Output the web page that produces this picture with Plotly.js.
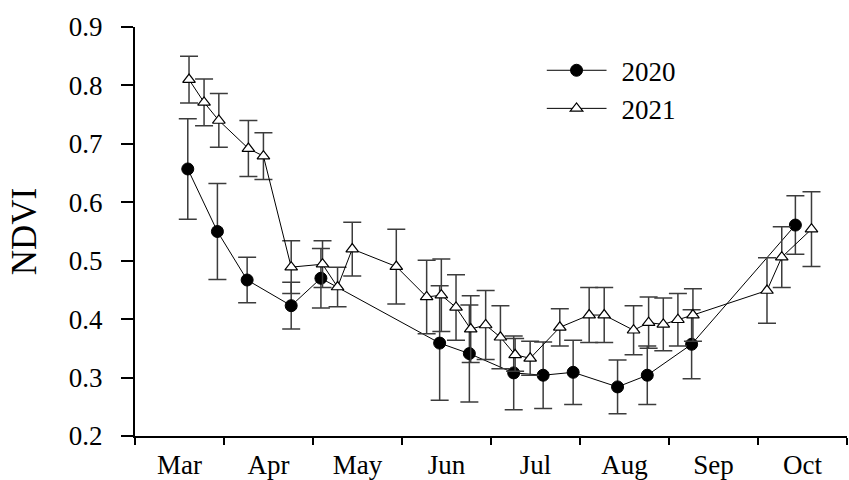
<!DOCTYPE html>
<html>
<head>
<meta charset="utf-8">
<script src="https://cdn.plot.ly/plotly-3.0.1.min.js"></script>
<style>
  html, body { margin: 0; padding: 0; background: #fff; }
  #chart { width: 849px; height: 480px; }
</style>
</head>
<body>
<div id="chart"></div>
<script>
// Month labels (axis runs in months since 1 March; ticks at month boundaries)
var monthLabels = ['Mar', 'Apr', 'May', 'Jun', 'Jul', 'Aug', 'Sep', 'Oct'];
var monthBounds = [0, 1, 2, 3, 4, 5, 6, 7, 8];
var monthCenters = [0.5, 1.5, 2.5, 3.5, 4.5, 5.5, 6.5, 7.5];

// 2020 series
var x2020 = [0.593, 0.926, 1.260, 1.755, 2.089, 3.423, 3.757, 4.255, 4.586, 4.923, 5.422, 5.756, 6.254, 7.420];
var y2020 = [0.657, 0.550, 0.467, 0.423, 0.470, 0.359, 0.341, 0.308, 0.304, 0.309, 0.284, 0.304, 0.357, 0.561];
var e2020 = [0.086, 0.082, 0.039, 0.040, 0.051, 0.098, 0.083, 0.063, 0.057, 0.055, 0.046, 0.050, 0.059, 0.050];

// 2021 series
var x2021 = [0.607, 0.776, 0.942, 1.274, 1.443, 1.755, 2.107, 2.276, 2.441, 2.936, 3.277, 3.442, 3.607, 3.772, 3.940,
             4.106, 4.271, 4.440, 4.773, 5.103, 5.272, 5.602, 5.771, 5.936, 6.100, 6.269, 7.101, 7.267, 7.601];
var y2021 = [0.810, 0.771, 0.740, 0.692, 0.679, 0.489, 0.494, 0.455, 0.520, 0.490, 0.438, 0.441, 0.420, 0.383, 0.390,
             0.369, 0.339, 0.333, 0.386, 0.407, 0.407, 0.381, 0.394, 0.391, 0.399, 0.407, 0.449, 0.506, 0.554];
var e2021 = [0.040, 0.040, 0.046, 0.048, 0.040, 0.045, 0.040, 0.034, 0.046, 0.064, 0.063, 0.062, 0.056, 0.057, 0.059,
             0.054, 0.028, 0.029, 0.032, 0.047, 0.047, 0.042, 0.044, 0.045, 0.045, 0.045, 0.056, 0.052, 0.064];

var FONT = 'Liberation Serif';
var errStyle = { type: 'data', visible: true, color: 'rgb(60,60,60)', thickness: 1.5, width: 9 };

var t2020 = {
  x: x2020, y: y2020, name: '2020', type: 'scatter', mode: 'lines+markers',
  line: { color: '#000', width: 1 },
  marker: { symbol: 'circle', size: 12, color: '#000', line: { color: '#000', width: 1 } },
  error_y: Object.assign({ array: e2020 }, errStyle)
};
var t2021 = {
  x: x2021, y: y2021, name: '2021', type: 'scatter', mode: 'lines+markers',
  line: { color: '#000', width: 1 },
  marker: { symbol: 'triangle-up', size: 11, color: '#fff', line: { color: '#000', width: 1.2 } },
  error_y: Object.assign({ array: e2021 }, errStyle)
};
// invisible helper to carry month labels on the overlaid axis
var labelTrace = {
  x: monthCenters, y: monthCenters.map(function () { return null; }),
  xaxis: 'x2', yaxis: 'y', type: 'scatter', mode: 'markers', showlegend: false, hoverinfo: 'skip'
};

var layout = {
  width: 849, height: 480,
  margin: { l: 135, r: 2, t: 27, b: 44 },
  paper_bgcolor: '#fff', plot_bgcolor: '#fff',
  font: { family: FONT, size: 27, color: '#000' },
  showlegend: true,
  legend: {
    x: 0.578, y: 0.953, xanchor: 'left', yanchor: 'top',
    bgcolor: 'rgba(0,0,0,0)', borderwidth: 0,
    font: { family: FONT, size: 27, color: '#000' },
    itemwidth: 65, tracegroupgap: 0
  },
  xaxis: {
    range: [0, 8], showgrid: false, zeroline: false,
    showline: true, linecolor: '#000', linewidth: 2,
    tickmode: 'array', tickvals: monthBounds, ticktext: monthBounds.map(function () { return ''; }),
    ticks: 'outside', ticklen: 7, tickwidth: 2, tickcolor: '#000',
    showticklabels: false, fixedrange: true
  },
  xaxis2: {
    overlaying: 'x', anchor: 'y', side: 'bottom', matches: 'x',
    range: [0, 8], showgrid: false, zeroline: false, showline: false,
    tickmode: 'array', tickvals: monthCenters, ticktext: monthLabels,
    ticks: '', showticklabels: true, ticklabelstandoff: 10,
    tickfont: { family: FONT, size: 27, color: '#000' }
  },
  yaxis: {
    range: [0.2, 0.9], showgrid: false, zeroline: false,
    showline: true, linecolor: '#000', linewidth: 2,
    tickmode: 'linear', tick0: 0.2, dtick: 0.1, tickformat: '.1f',
    ticks: 'outside', ticklen: 12, tickwidth: 2, tickcolor: '#000',
    ticklabelstandoff: 13,
    tickfont: { family: FONT, size: 27, color: '#000' },
    title: { text: 'NDVI', font: { family: FONT, size: 35, color: '#000' }, standoff: 22 }
  }
};

Plotly.newPlot('chart', [t2020, t2021, labelTrace], layout, { displayModeBar: false, staticPlot: true }).then(function () {
  // lengthen legend sample lines to match the reference style
  var items = document.querySelectorAll('.legend .traces');
  items.forEach(function (g) {
    g.querySelectorAll('path.js-line').forEach(function (p) { p.setAttribute('d', 'M0,0h60'); });
    g.querySelectorAll('.legendsymbols path.scatterpts').forEach(function (p) {
      p.setAttribute('transform', 'translate(30,0)');
    });
  });
});
</script>
</body>
</html>
